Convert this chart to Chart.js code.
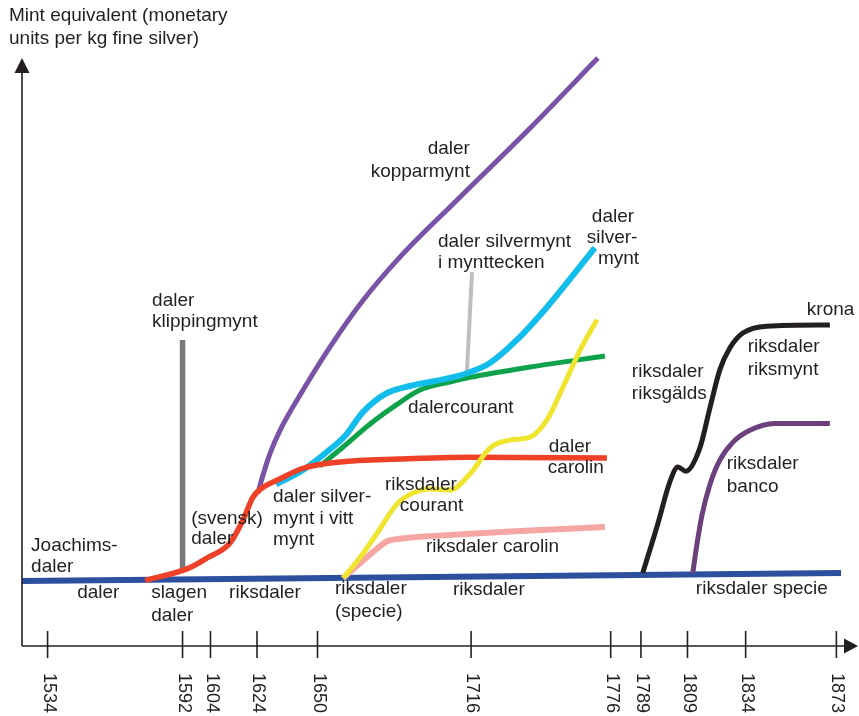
<!DOCTYPE html>
<html lang="en">
<head>
    <meta charset="UTF-8">
    <script src="https://cdn.jsdelivr.net/npm/chart.js"></script>
    <title>Mint equivalent</title>
    <style>
        html, body { margin: 0; padding: 0; background: #fff; }
        #wrap { width: 859px; height: 716px; }
    </style>
</head>
<body>
    <div id="wrap"><canvas id="chart" width="859" height="716"></canvas></div>

    <script>
        // x = year, y = mint equivalent (arbitrary units)
        const tickYears = [1534, 1592, 1604, 1624, 1650, 1716, 1776, 1789, 1809, 1834, 1873];

        const specieYears = [1523, 1875];
        const specieValues = [10.3, 11.7];

        const dalerYears = [1575.9, 1594.4, 1602.5, 1612.4, 1618.0, 1622.3, 1626.6, 1632.6, 1643.8, 1659.7, 1685.4, 1715.5, 1774.4];
        const dalerValues = [10.4, 12.5, 14.3, 16.9, 20.9, 24.9, 26.6, 27.8, 29.9, 31.0, 31.5, 31.8, 31.7];

        const kopparYears = [1624.4, 1626.2, 1629.6, 1633.9, 1643.8, 1655.4, 1669.6, 1685.4, 1709.9, 1741.3, 1770.5];
        const kopparValues = [25.6, 28.2, 32.5, 36.5, 43.5, 51.0, 59.1, 66.6, 76.5, 89.0, 101.2];

        const silverYears = [1632.2, 1643.8, 1655.4, 1661.8, 1669.6, 1679.0, 1689.7, 1706.9, 1715.5, 1724.1, 1735.7, 1748.6, 1769.2];
        const silverValues = [27.1, 29.6, 33.2, 35.5, 39.7, 42.8, 44.2, 45.6, 46.6, 48.2, 52.2, 57.9, 68.2];

        const courantYears = [1651.1, 1661.0, 1672.6, 1684.2, 1694.0, 1706.9, 1715.5, 1741.3, 1773.5];
        const courantValues = [30.3, 33.6, 37.6, 41.0, 43.5, 44.9, 45.7, 47.5, 49.4];

        const rdCourantYears = [1661.0, 1668.3, 1675.6, 1684.2, 1691.0, 1698.3, 1706.9, 1715.5, 1724.1, 1732.7, 1741.3, 1748.6, 1755.5, 1762.8, 1770.1];
        const rdCourantValues = [10.8, 14.4, 18.6, 23.7, 25.6, 26.3, 26.1, 28.9, 33.4, 34.8, 35.3, 38.3, 44.0, 50.4, 55.7];

        const rdCarolinYears = [1661.0, 1679.9, 1698.3, 1737.0, 1773.5];
        const rdCarolinValues = [10.8, 17.2, 18.1, 19.0, 19.7];

        const riksgaldsYears = [1789.8, 1796.3, 1801.4, 1804.9, 1808.3, 1814.3, 1818.6, 1822.9, 1827.2, 1832.8, 1843.1, 1870.2];
        const riksgaldsValues = [11.7, 20.3, 27.5, 30.1, 29.4, 33.4, 40.3, 47.0, 50.8, 53.4, 54.6, 54.8];

        const bancoYears = [1811.3, 1813.0, 1815.2, 1818.6, 1822.9, 1828.5, 1835.8, 1846.5, 1870.2];
        const bancoValues = [11.7, 16.5, 21.7, 27.0, 31.3, 34.4, 36.5, 37.7, 37.7];

        const klippingYears = [1592, 1592];
        const klippingValues = [12.2, 52.2];

        const myntteckenYears = [1714.2, 1716.4];
        const myntteckenValues = [46.6, 64.0];

        const ink = '#231f20';
        const font = '"Liberation Sans", Arial, sans-serif';

        // text labels placed in data units: [text, year, value, align]
        const notes = [
            ['Joachims-', 1526.9, 16.5], ['daler', 1526.9, 12.7],
            ['daler', 1546.7, 8.3],
            ['slagen', 1578.5, 8.3], ['daler', 1578.5, 4.3],
            ['riksdaler', 1612.0, 8.3],
            ['riksdaler', 1657.5, 8.9], ['(specie)', 1657.5, 5.0],
            ['riksdaler', 1708.2, 8.7],
            ['riksdaler specie', 1812.6, 8.9],
            ['daler', 1578.9, 59.1], ['klippingmynt', 1578.9, 55.3],
            ['(svensk)', 1595.7, 21.2], ['daler', 1595.7, 17.6],
            ['daler silver-', 1630.9, 25.0], ['mynt i vitt', 1630.9, 21.2], ['mynt', 1630.9, 17.4],
            ['riksdaler', 1679.0, 27.1], ['courant', 1685.4, 23.3],
            ['riksdaler carolin', 1696.6, 16.2],
            ['dalercourant', 1688.9, 40.5],
            ['daler', 1749.4, 33.6], ['carolin', 1749.0, 29.9],
            ['daler silvermynt', 1701.8, 69.2], ['i mynttecken', 1701.8, 65.6],
            ['daler', 1715.5, 85.4, 'right'], ['kopparmynt', 1715.5, 81.4, 'right'],
            ['daler', 1767.9, 73.7], ['silver-', 1765.7, 69.9], ['mynt', 1770.5, 66.4],
            ['krona', 1860.3, 57.4],
            ['riksdaler', 1834.9, 51.0], ['riksmynt', 1834.9, 47.1],
            ['riksdaler', 1785.1, 46.6], ['riksgälds', 1785.1, 42.8],
            ['riksdaler', 1825.9, 30.6], ['banco', 1825.9, 26.6]
        ];

        function pts(xs, ys) {
            return xs.map((x, i) => ({ x: x, y: ys[i] }));
        }

        // smooth: 'mono' for monotone curves, a number for plain bezier tension
        function series(label, xs, ys, color, width, smooth) {
            return {
                label: label,
                data: pts(xs, ys),
                borderColor: color,
                borderWidth: width,
                pointRadius: 0,
                fill: false,
                tension: smooth === 'mono' ? 0.4 : (smooth || 0),
                cubicInterpolationMode: smooth === 'mono' ? 'monotone' : 'default'
            };
        }

        const overlay = {
            id: 'overlay',
            afterDraw(chart) {
                const ctx = chart.ctx;
                const a = chart.chartArea;
                const xs = chart.scales.x, ys = chart.scales.y;
                const ay = a.bottom, ax = a.left;
                ctx.save();
                ctx.strokeStyle = ink;
                ctx.fillStyle = ink;
                ctx.lineWidth = 1.6;

                // y axis with arrow
                const top = a.top + 16;
                ctx.beginPath();
                ctx.moveTo(ax, ay);
                ctx.lineTo(ax, top + 10);
                ctx.stroke();
                ctx.beginPath();
                ctx.moveTo(ax, top);
                ctx.lineTo(ax - 7.5, top + 15);
                ctx.lineTo(ax + 7.5, top + 15);
                ctx.closePath();
                ctx.fill();

                // x axis with arrow
                const tip = a.right + 3;
                ctx.beginPath();
                ctx.moveTo(ax, ay);
                ctx.lineTo(tip - 10, ay);
                ctx.stroke();
                ctx.beginPath();
                ctx.moveTo(tip, ay);
                ctx.lineTo(tip - 14, ay - 7.5);
                ctx.lineTo(tip - 14, ay + 7.5);
                ctx.closePath();
                ctx.fill();

                // ticks and rotated year labels
                ctx.font = '18px ' + font;
                ctx.textAlign = 'left';
                ctx.textBaseline = 'middle';
                tickYears.forEach(yr => {
                    const px = xs.getPixelForValue(yr);
                    ctx.beginPath();
                    ctx.moveTo(px, ay - 15);
                    ctx.lineTo(px, ay + 12);
                    ctx.stroke();
                    ctx.save();
                    ctx.translate(px + 1, ay + 27);
                    ctx.rotate(Math.PI / 2);
                    ctx.fillText(String(yr), 0, 0);
                    ctx.restore();
                });

                // axis title
                ctx.font = '19px ' + font;
                ctx.textAlign = 'left';
                ctx.fillText('Mint equivalent (monetary', 9, 16);
                ctx.fillText('units per kg fine silver)', 9, 39);

                // series labels
                notes.forEach(n => {
                    ctx.textAlign = n[3] || 'left';
                    ctx.fillText(n[0], xs.getPixelForValue(n[1]), ys.getPixelForValue(n[2]));
                });
                ctx.restore();
            }
        };

        new Chart(document.getElementById('chart').getContext('2d'), {
            type: 'line',
            data: {
                datasets: [
                    series('riksdaler riksgälds / krona', riksgaldsYears, riksgaldsValues, '#231f20', 5, 'mono'),
                    series('riksdaler banco', bancoYears, bancoValues, '#6c3f7d', 5, 'mono'),
                    series('riksdaler courant', rdCourantYears, rdCourantValues, '#efe52f', 5, 'mono'),
                    series('riksdaler carolin', rdCarolinYears, rdCarolinValues, '#f5a5a2', 6, 0.15),
                    series('daler carolin', dalerYears, dalerValues, '#ee4127', 5.5, 'mono'),
                    series('daler silvermynt', silverYears, silverValues, '#12bdeb', 6, 'mono'),
                    series('dalercourant', courantYears, courantValues, '#0ea24b', 5, 'mono'),
                    series('daler kopparmynt', kopparYears, kopparValues, '#7953a5', 5, 'mono'),
                    series('daler silvermynt i mynttecken', myntteckenYears, myntteckenValues, '#bcbec0', 4, 0),
                    series('daler klippingmynt', klippingYears, klippingValues, '#77787b', 5.5, 0),
                    series('riksdaler specie', specieYears, specieValues, '#2c4f9e', 6, 0)
                ]
            },
            options: {
                responsive: false,
                animation: false,
                layout: { padding: { left: 22, right: 4, top: 42, bottom: 70 } },
                plugins: { legend: { display: false }, tooltip: { enabled: false } },
                scales: {
                    x: { type: 'linear', min: 1523, max: 1881, display: false },
                    y: { type: 'linear', min: -1, max: 104, display: false }
                }
            },
            plugins: [overlay]
        });
    </script>
</body>
</html>
